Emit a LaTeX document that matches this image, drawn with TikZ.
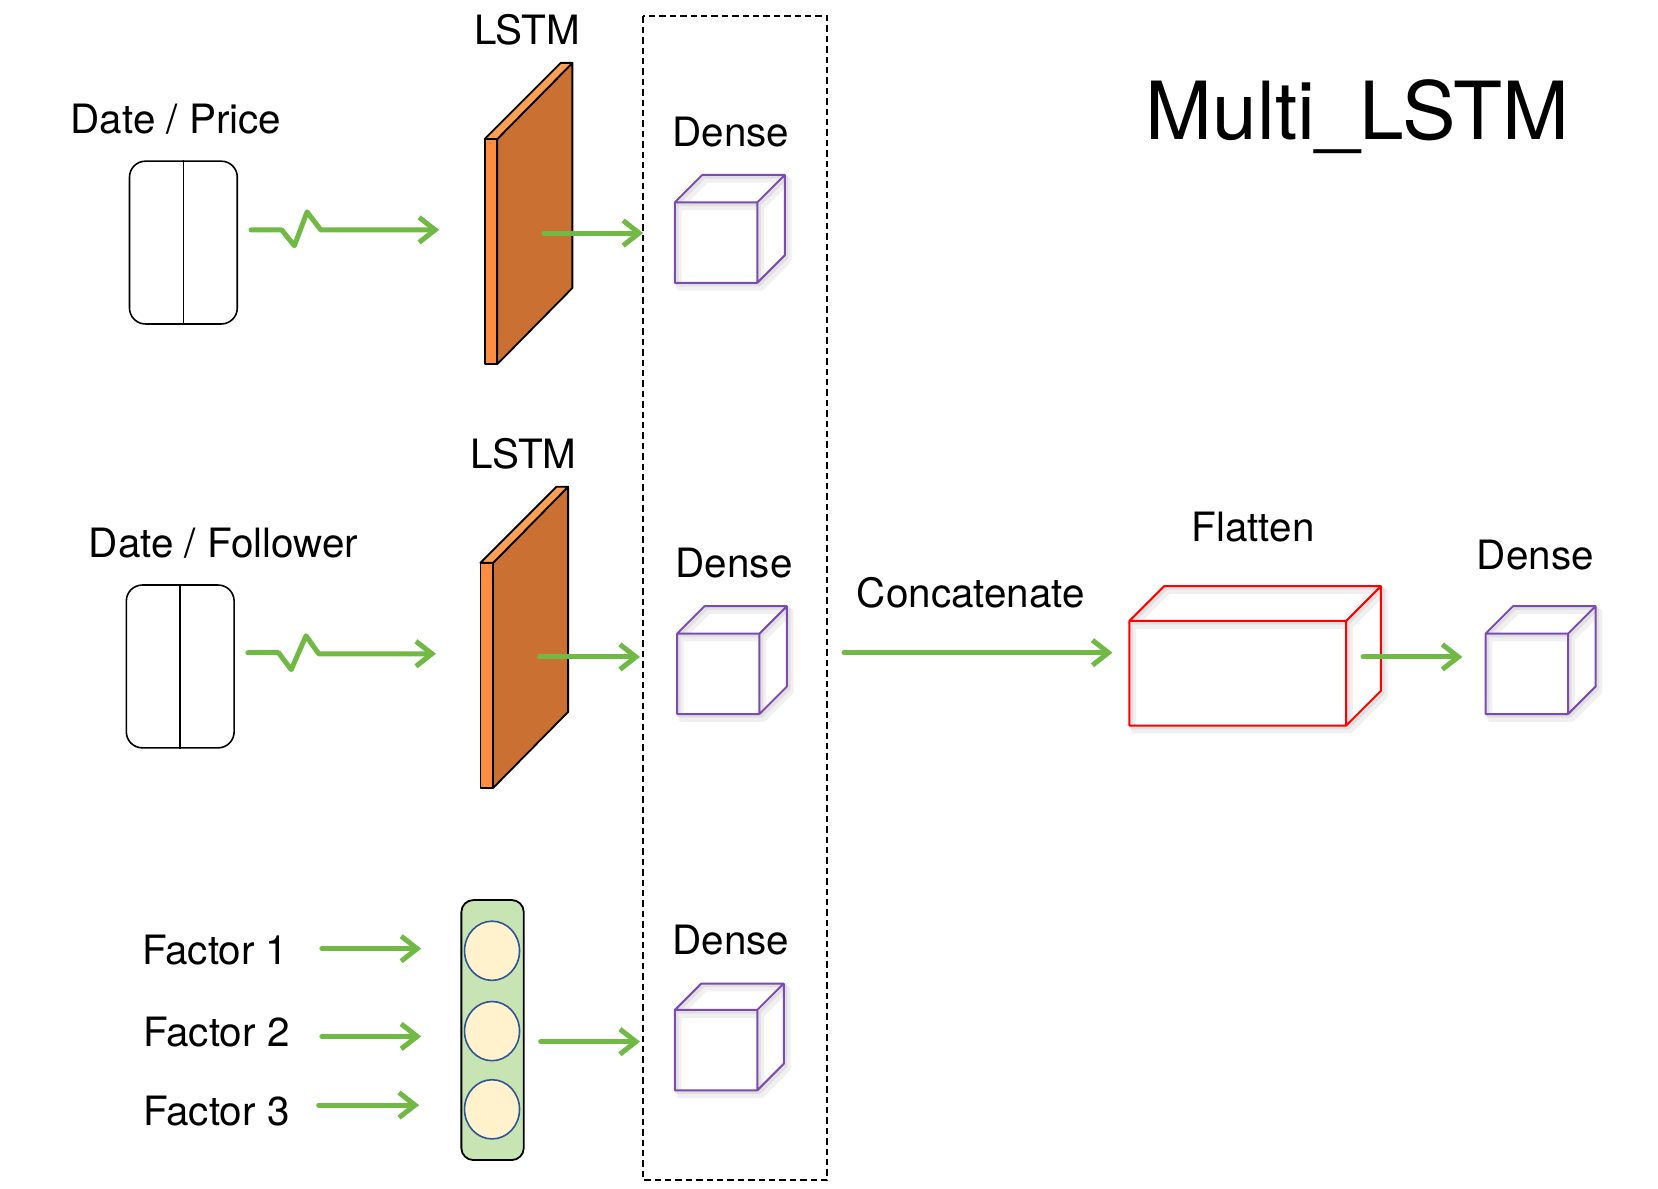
\documentclass[tikz,border=0pt]{standalone}
\usepackage{fontspec}
\setmainfont{TeX Gyre Heros}
\usetikzlibrary{arrows.meta,positioning,shapes.geometric}
\definecolor{flowgreen}{HTML}{70B944}
\definecolor{panelfront}{HTML}{FF8C3F}
\definecolor{paneltop}{HTML}{FFA055}
\definecolor{panelside}{HTML}{CB7033}
\definecolor{densepurple}{HTML}{7B4BB0}
\definecolor{pillgreen}{HTML}{C8E4B2}
\definecolor{dotfill}{HTML}{FFF2CC}
\definecolor{dotline}{HTML}{2F5597}
\tikzset{
    label/.style = {
        font=\fontsize{20.2pt}{22pt}\selectfont,
        inner sep=0pt,
        },
    title/.style = {
        font=\fontsize{40.1pt}{44pt}\selectfont,
        inner sep=0pt,
        },
    flow/.style = {
        draw=flowgreen,
        line width=2.5pt,
        line cap=round,
        line join=round,
        -{Straight Barb[length=8pt,width=12.5pt,line width=2.5pt]},
        },
    seq box/.style = {
        draw,
        rounded corners=8pt,
        minimum width=53.9pt,
        minimum height=81.4pt,
        line width=.8pt,
        },
    pill/.style = {
        draw,
        fill=pillgreen,
        rounded corners=6pt,
        minimum width=31.2pt,
        minimum height=130pt,
        line width=.9pt,
        },
    dot/.style = {
        draw=dotline,
        fill=dotfill,
        ellipse,
        inner sep=0pt,
        minimum width=27.5pt,
        minimum height=29.6pt,
        line width=.8pt,
        },
    panel/.style = {
        draw=black,
        line width=.9pt,
        line join=round,
        },
    frame/.style = {
        draw=black,
        dash pattern=on 3.2pt off 2pt,
        line width=.9pt,
        },
}
% left, top of the front face, width, height, depth, colour
\newcommand{\solidbox}[6]{
    \foreach \dx/\dy/\col/\lw in {4/5/black!6/2.5pt, 2/2/black!12/1.5pt, 0/0/#6/1pt} {
        \draw[draw=\col, line width=\lw, line join=round, shift={(\dx,\dy)}]
            (#1,#2) rectangle ++(#3,#4)
            (#1,#2) -- ++(#5,-#5) -- ++(#3,0) -- ++(0,#4) -- ++(-#5,#5)
            (#1+#3,#2) -- ++(#5,-#5);
    }
}
\begin{document}
\begin{tikzpicture}[x=0.5285pt,y=-0.5285pt]
    \useasboundingbox (-0.5,-0.5) rectangle (1568.1,1123.5);

    \node[title] (title) at (1284,110) {Multi\_LSTM};

    % inputs
    \node[label] (price) at (166,112) {Date / Price};
    \node[seq box] (seqA) at (173,229) {};
    \draw[line width=.8pt] (seqA.north) -- (seqA.south);
    \node[label] (follower) at (211,513) {Date / Follower};
    \node[seq box] (seqB) at (170,630) {};
    \draw[line width=.8pt] (seqB.north) -- (seqB.south);

    % lstm panels
    \foreach \dx/\dy/\name in {0/0/A, -4/401/B} {
        \begin{scope}[shift={(\dx,\dy)}]
            \draw[panel, fill=panelside] (470,131) -- (541,59) -- (541,272) -- (470,344) -- cycle;
            \draw[panel, fill=paneltop] (458,131) -- (530,59) -- (541,59) -- (470,131) -- cycle;
            \draw[panel, fill=panelfront] (458,131) rectangle (470,344);
            \coordinate (lstm\name) at (514,220);
        \end{scope}
    }
    \node[label] (lstmtextA) at (498,28) {LSTM};
    \node[label] (lstmtextB) at (495,429) {LSTM};

    % factors
    \node[label, anchor=west] (factorA) at (133.5,898) {Factor 1};
    \node[label, anchor=west] (factorB) at (134.5,976) {Factor 2};
    \node[label, anchor=west] (factorC) at (134.5,1051) {Factor 3};
    \node[pill] (factors) at (465.5,974) {};
    \node[dot] (dotA) at (465,899) {};
    \node[dot] (dotB) at (465,975) {};
    \node[dot] (dotC) at (465,1049) {};

    % dense column
    \draw[frame] (608,15) rectangle (782,1116);
    \node[label] (denseA) at (691,124) {Dense};
    \node[label] (denseB) at (694,532) {Dense};
    \node[label] (denseC) at (691,889) {Dense};
    \solidbox{638}{191}{78}{76}{26}{densepurple}
    \solidbox{640}{599}{78}{76}{26}{densepurple}
    \solidbox{638}{955}{78}{76}{25}{densepurple}

    % right part
    \node[label] (concat) at (918,560) {Concatenate};
    \node[label] (flatten) at (1185,498) {Flatten};
    \node[label] (denseD) at (1452,525) {Dense};
    \solidbox{1068}{587}{205}{99}{33}{red}
    \solidbox{1405}{599}{78}{76}{26}{densepurple}

    % arrow ends
    \coordinate (zigA) at (237,217);
    \coordinate (lstminA) at (415,217);
    \coordinate (zigB) at (234,617);
    \coordinate (lstminB) at (412,618);
    \coordinate (inA) at (608,220);
    \coordinate (inB) at (605,621);
    \coordinate (inC) at (605,985);
    \coordinate (outC) at (511,985);
    \coordinate (fromA) at (304,897);
    \coordinate (toA) at (398,897);
    \coordinate (fromB) at (304,980);
    \coordinate (toB) at (398,980);
    \coordinate (fromC) at (301,1045);
    \coordinate (toC) at (396,1045);
    \coordinate (joined) at (798,617);
    \coordinate (flatin) at (1052,617);
    \coordinate (flatout) at (1289,621);
    \coordinate (lastin) at (1383,621);

    \draw[flow] (zigA) -- ++(29,0) -- ++(12,15) -- ++(12,-32) -- ++(13,17) -- (lstminA);
    \draw[flow] (zigB) -- ++(29,0) -- ++(12,16) -- ++(14,-32) -- ++(12,17) -- (lstminB);
    \draw[flow] (lstmA) -- (inA);
    \draw[flow] (lstmB) -- (inB);
    \draw[flow] (outC) -- (inC);
    \draw[flow] (fromA) -- (toA);
    \draw[flow] (fromB) -- (toB);
    \draw[flow] (fromC) -- (toC);
    \draw[flow] (joined) -- (flatin);
    \draw[flow] (flatout) -- (lastin);
\end{tikzpicture}
\end{document}
